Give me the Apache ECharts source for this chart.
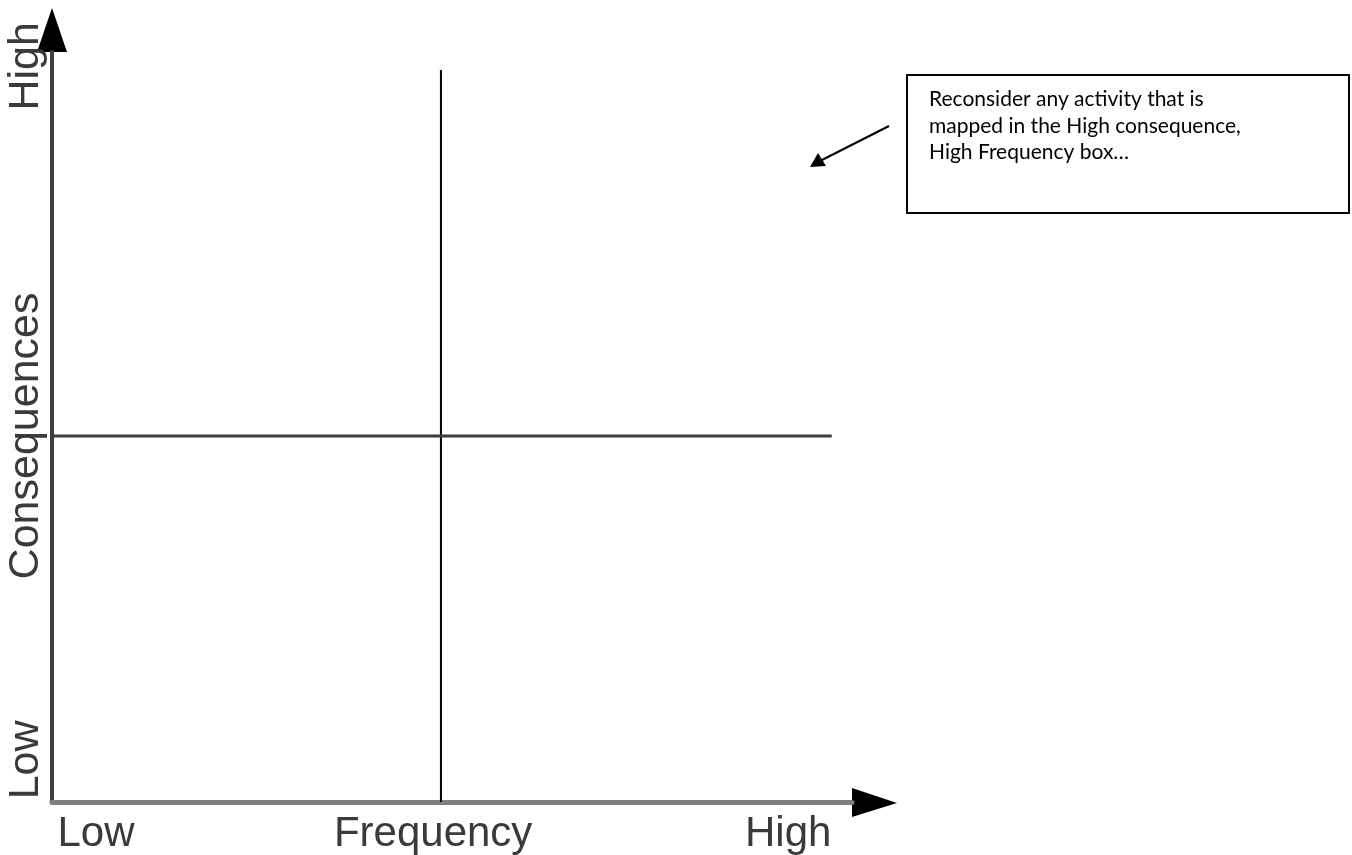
<!DOCTYPE html>
<html>
<head>
<meta charset="utf-8">
<script src="https://cdn.jsdelivr.net/npm/echarts@6/dist/echarts.min.js"></script>
<style>
html,body{margin:0;padding:0;background:#fff;}
#chart{width:1352px;height:855px;}
</style>
</head>
<body>
<div id="chart"></div>
<script>
// ---- data ----
const xTickLabels = ['Low', 'Frequency', 'High'];
const xTickValues = [0.113, 0.98, 1.893];
const yTickLabels = ['Low', 'Consequences', 'High'];
const yTickValues = [0.115, 1.0, 2.01];
const verticalDivider = [[1, 0], [1, 2]];
const horizontalDivider = [[0, 1], [2.005, 1]];
const calloutLines = ['Reconsider any activity that is', 'mapped in the High consequence,', 'High Frequency box…'];

const X_MAX = 2.057, Y_MAX = 2.049;

const chart = echarts.init(document.getElementById('chart'), null, {renderer: 'canvas'});

const option = {
  backgroundColor: '#fff',
  animation: false,
  grid: {left: 52, right: 500, top: 52, bottom: 53, containLabel: false, outerBoundsMode: 'none'},
  xAxis: {
    type: 'value', min: 0, max: X_MAX,
    splitLine: {show: false}, axisTick: {show: false},
    axisLine: {show: true, onZero: false, lineStyle: {color: '#7f7f7f', width: 5}},
    axisLabel: {
      customValues: xTickValues,
      formatter: (v) => xTickLabels[xTickValues.indexOf(v)] || '',
      fontFamily: 'Liberation Sans, Arial, sans-serif', fontSize: 42, color: '#3a3a3a', margin: 11
    }
  },
  yAxis: {
    type: 'value', min: 0, max: Y_MAX,
    splitLine: {show: false}, axisTick: {show: false},
    axisLine: {show: true, onZero: false, lineStyle: {color: '#404040', width: 4}},
    axisLabel: {
      customValues: yTickValues,
      formatter: (v) => yTickLabels[yTickValues.indexOf(v)] || '',
      rotate: 90,
      fontFamily: 'Liberation Sans, Arial, sans-serif', fontSize: 43, color: '#3a3a3a', margin: 4
    }
  },
  series: [
    {type: 'line', data: verticalDivider, symbol: 'none', silent: true,
      lineStyle: {color: '#000', width: 2}},
    {type: 'line', data: horizontalDivider, symbol: 'none', silent: true,
      lineStyle: {color: '#3c3c3c', width: 3}}
  ]
};
chart.setOption(option);

// arrowheads at the axis ends, positioned from the axes' own scales
const xEnd = chart.convertToPixel({gridIndex: 0}, [X_MAX, 0]);
const yEnd = chart.convertToPixel({gridIndex: 0}, [0, Y_MAX]);
chart.setOption({
  graphic: [
    {type: 'polygon', shape: {points: [[xEnd[0], xEnd[1] - 14], [xEnd[0] + 45, xEnd[1] + 1], [xEnd[0], xEnd[1] + 15]]}, style: {fill: '#000'}},
    {type: 'polygon', shape: {points: [[yEnd[0] - 15, yEnd[1]], [yEnd[0], yEnd[1] - 44], [yEnd[0] + 15, yEnd[1]]]}, style: {fill: '#000'}},
    {type: 'rect', shape: {x: 907, y: 75, width: 442, height: 138},
      style: {fill: '#fff', stroke: '#000', lineWidth: 2}},
    {type: 'text', left: 929, top: 86,
      style: {text: calloutLines.join('\n'), font: '21px Lato, "Open Sans", sans-serif', fill: '#000', lineHeight: 26.5}},
    {type: 'line', shape: {x1: 889, y1: 126, x2: 820, y2: 161}, style: {stroke: '#000', lineWidth: 2}},
    {type: 'polygon', shape: {points: [[810, 167], [818, 153], [826, 166]]}, style: {fill: '#000'}}
  ]
});
</script>
</body>
</html>
